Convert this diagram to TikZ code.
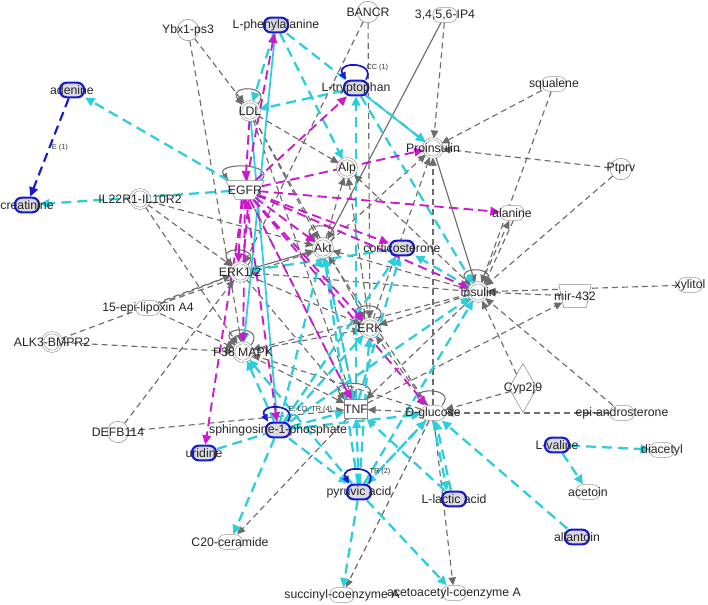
\documentclass[tikz,border=0pt]{standalone}
\usepackage{fontspec}
\setsansfont{Liberation Sans}
\usepackage{xcolor}
\usetikzlibrary{shapes.geometric,arrows.meta,backgrounds}

\definecolor{ipagray}{RGB}{108,108,108}
\definecolor{ipacyan}{RGB}{45,205,220}
\definecolor{ipamag}{RGB}{205,25,205}
\definecolor{ipablue}{RGB}{25,25,205}
\definecolor{molfill}{RGB}{218,218,224}

\begin{document}
\begin{tikzpicture}[
  x = 0.75pt, y = -0.75pt,
  every label/.style = {font=\fontsize{9.2}{10}\selectfont\sffamily, text=black!85, inner sep=0pt},
  elbl/.style = {font=\fontsize{5.5}{6}\selectfont\sffamily, text=black!80, inner sep=1pt},
  gene/.style = {circle, draw=ipagray!80, fill=white, minimum size=16pt, inner sep=0pt},
  group/.style = {gene, double=white, double distance=1.2pt, minimum size=14pt},
  recep/.style = {trapezium, trapezium angle=62, shape border rotate=180,
    draw=ipagray!80, fill=white, minimum width=18pt, minimum height=14pt, inner sep=1pt},
  chem/.style = {rectangle, rounded corners=5pt, draw=ipagray!70, fill=white,
    minimum width=18pt, minimum height=11pt, inner sep=0pt},
  meas/.style = {chem, draw=ipablue, line width=1.6pt, fill=molfill},
  cyto/.style = {rectangle, draw=ipagray!80, fill=white, minimum width=17pt, minimum height=14pt, inner sep=0pt},
  mirna/.style = {trapezium, trapezium angle=78, shape border rotate=180,
    draw=ipagray!80, fill=white, minimum width=17pt, minimum height=17pt, inner sep=1pt},
  enzyme/.style = {diamond, aspect=0.56, draw=ipagray!80, fill=white,
    minimum width=21pt, minimum height=37pt, inner sep=0pt},
  gd/.style = {draw=ipagray, line width=0.85pt, dash pattern=on 4.5pt off 3pt,
    -{Triangle[length=6pt,width=5.5pt]}},
  gs/.style = {gd, solid},
  cy/.style = {draw=ipacyan, line width=1.7pt, dash pattern=on 7.5pt off 4.5pt,
    -{Triangle[length=7pt,width=6.5pt]}},
  cs/.style = {cy, solid, line width=1.3pt},
  mg/.style = {draw=ipamag, line width=1.4pt, dash pattern=on 7pt off 4pt,
    -{Triangle[length=7pt,width=6.5pt]}},
  bd/.style = {draw=ipablue, line width=1.6pt, dash pattern=on 7pt off 4pt,
    -{Triangle[length=7pt,width=6.5pt]}},
  gloop/.style = {draw=ipagray, line width=0.8pt, {Triangle[length=5.5pt,width=5pt]}-},
  bloop/.style = {draw=ipablue, line width=1.3pt, {Triangle[length=5.5pt,width=5pt]}-}
]
\useasboundingbox (0,0) rectangle (708,605);

% molecules
\node[gene,  label=center:Ybx1-ps3]         (ybx)    at (188,30)  {};
\node[meas,  label=center:L-phenylalanine]  (phe)    at (276,25)  {};
\node[gene,  label=center:BANCR]            (bancr)  at (368,12)  {};
\node[chem,  label=center:{3,4,5,6-IP4}]    (ip4)    at (445,15)  {};
\node[meas,  label=center:adenine]          (ade)    at (72,90)   {};
\node[meas,  label=center:L-tryptophan]     (trp)    at (356,88)  {};
\node[group, label=center:LDL]              (ldl)    at (250,111) {};
\node[chem,  label=center:squalene]         (squ)    at (554,84)  {};
\node[group, label=center:Proinsulin]       (proins) at (433,148) {};
\node[group, label=center:Alp]              (alp)    at (347,168) {};
\node[gene,  label=center:Ptprv]            (ptprv)  at (621,169) {};
\node[meas,  label=center:creatinine]       (crea)   at (27,205)  {};
\node[group, label=center:IL22R1-IL10R2]    (il22)   at (140,199) {};
\node[recep, label=center:EGFR]             (egfr)   at (245,190) {};
\node[chem,  label=center:alanine]          (ala)    at (512,213) {};
\node[group, label=center:Akt]              (akt)    at (323,248) {};
\node[meas,  label=center:corticosterone]   (cort)   at (402,248) {};
\node[group, label=center:ERK1/2]           (erk12)  at (240,272) {};
\node[group, label=center:Insulin]          (ins)    at (478,292) {};
\node[mirna, label=center:mir-432]          (mir)    at (575,296) {};
\node[chem,  label=center:xylitol]          (xyl)    at (690,285) {};
\node[chem,  label=center:15-epi-lipoxin A4] (lipox) at (148,308) {};
\node[group, label=center:ALK3-BMPR2]       (alk3)   at (52,342)  {};
\node[group, label=center:P38 MAPK]         (p38)    at (243,352) {};
\node[group, label=center:ERK]              (erk)    at (370,328) {};
\node[enzyme, label=center:Cyp2j9]          (cyp)    at (523,388) {};
\node[cyto,  label=center:TNF]              (tnf)    at (356,409) {};
\node[chem,  label=center:D-glucose]        (dglc)   at (433,413) {};
\node[chem,  label=center:epi-androsterone] (epi)    at (622,413) {};
\node[gene,  label=center:DEFB114]          (defb)   at (118,432) {};
\node[meas,  label=center:sphingosine-1-phosphate] (s1p) at (278,430) {};
\node[meas,  label=center:uridine]          (uri)    at (204,453) {};
\node[meas,  label=center:L-valine]         (lval)   at (557,445) {};
\node[chem,  label=center:diacetyl]         (diac)   at (662,450) {};
\node[meas,  label=center:pyruvic acid]     (pyr)    at (359,492) {};
\node[chem,  label=center:acetoin]          (acet)   at (588,492) {};
\node[meas,  label=center:L-lactic acid]    (lac)    at (454,499) {};
\node[chem,  label=center:C20-ceramide]     (c20)    at (230,542) {};
\node[meas,  label=center:allantoin]        (allan)  at (577,537) {};
\node[chem,  label=center:succinyl-coenzyme A]    (succ) at (342,595) {};
\node[chem,  label=center:acetoacetyl-coenzyme A] (acac) at (454,593) {};

\begin{scope}[on background layer]
\fill[white] (0,0) rectangle (708,605);

% grey relations
\draw[gd] (ybx) -- (ldl);
\draw[gd] (ybx) -- (p38);
\draw[gd] (bancr) -- (erk12);
\draw[gd] (bancr) -- (erk);
\draw[gd] (ip4) -- (proins);
\draw[gs] (ip4) -- (akt);
\draw[gd] (squ) -- (proins);
\draw[gd] (squ) -- (ins);
\draw[gd] (ptprv) -- (proins);
\draw[gd] (ptprv) -- (ins);
\draw[gd] (ldl) -- (alp);
\draw[gd] (ldl) -- (akt);
\draw[gd] (ldl) -- (erk);
\draw[gd] (ldl) -- (tnf);
\draw[gd] (il22) -- (erk12);
\draw[gd] (il22) -- (p38);
\draw[gd] (il22) -- (akt);
\draw[gd] (lipox) -- (erk12);
\draw[gd] (lipox) -- (akt);
\draw[gd] (lipox) -- (p38);
\draw[gd] (alk3) -- (erk12);
\draw[gd] (alk3) -- (p38);
\draw[gd] (defb) -- (erk12);
\draw[gd] (defb) -- (tnf);
\draw[gd] (tnf) -- (c20);
\draw[gd] (tnf) -- (mir);
\draw[gd] (xyl) -- (ins);
\draw[gd] (mir) -- (ins);
\draw[gd] (cyp) -- (ins);
\draw[gd] (cyp) -- (dglc);
\draw[gd] (epi) -- (dglc);
\draw[gd] (epi) -- (ins);
\draw[gd] (dglc) -- (tnf);
\draw[gd] (dglc) -- (proins);
\draw[gd] (dglc) -- (succ);
\draw[gd] (dglc) -- (acac);
\draw[gd] (dglc) -- (erk);
\draw[gd] (dglc) -- (akt);
\draw[gd] (dglc) -- (p38);
\draw[gd] (ins.70) -- (ala.250);
\draw[gd] (ala.280) -- (ins.50);
\draw[gd] (ins) -- (erk);
\draw[gd] (ins) -- (akt);
\draw[gd] (ins) -- (erk12);
\draw[gd] (ins) -- (p38);
\draw[gd] (ins) -- (tnf);
\draw[gd] (ins) -- (alp);
\draw[gd] (erk) -- (alp);
\draw[gd] (erk) -- (proins);
\draw[gd] (akt) -- (alp);
\draw[gd] (akt) -- (proins);
\draw[gs] (proins) -- (ins);
\draw[gd] (egfr) -- (tnf);
\draw[gd] (erk12) -- (tnf);
\draw[gd] (p38) -- (tnf);
\draw[gs] (erk12) -- (akt);
\draw[gd] (p38) -- (erk);
\draw[gd] (erk12) -- (erk);
\draw[gd] (akt) -- (tnf);

% self relations
\draw[gloop] (ldl.140)   to[out=130,in=50,min distance=20pt] (ldl.40);
\draw[gloop] (egfr.150)  to[out=130,in=50,min distance=18pt] (egfr.30);
\draw[gloop] (erk12.140) to[out=130,in=50,min distance=20pt] (erk12.40);
\draw[gloop] (p38.140)   to[out=130,in=50,min distance=20pt] (p38.40);
\draw[gloop] (akt.140)   to[out=130,in=50,min distance=20pt] (akt.40);
\draw[gloop] (erk.140)   to[out=130,in=50,min distance=20pt] (erk.40);
\draw[gloop] (ins.140)   to[out=130,in=50,min distance=20pt] (ins.40);
\draw[gloop] (tnf.140)   to[out=130,in=50,min distance=20pt] (tnf.40);
\draw[gloop] (dglc.140)  to[out=130,in=50,min distance=18pt] (dglc.40);

% metabolite relations
\draw[cy] (phe) -- (ldl);
\draw[cy] (phe) -- (alp);
\draw[cy] (phe) -- (proins);
\draw[cs] (phe) -- (p38);
\draw[cs, -] (ldl) -- (s1p);
\draw[cy] (trp) -- (ldl);
\draw[cs] (trp) -- (proins);
\draw[cy] (trp) -- (ins);
\draw[cy] (tnf) -- (trp);
\draw[cy] (egfr) -- (ade);
\draw[cy] (egfr) -- (crea);
\draw[cy, -] (uri) -- (s1p);
\draw[cy] (s1p) -- (c20);
\draw[cy] (s1p) -- (tnf);
\draw[cy] (s1p) -- (erk);
\draw[cy] (s1p) -- (akt);
\draw[cy] (s1p) -- (p38);
\draw[cy] (s1p) -- (ins);
\draw[cy] (s1p) -- (dglc);
\draw[cy] (s1p) -- (cort);
\draw[cy] (s1p) -- (pyr);
\draw[cy] (pyr) -- (succ);
\draw[cy] (pyr) -- (acac);
\draw[cy] (pyr) -- (dglc);
\draw[cy] (pyr) -- (tnf);
\draw[cy] (pyr) -- (erk);
\draw[cy] (pyr) -- (ins);
\draw[cy] (pyr) -- (akt);
\draw[cy] (pyr) -- (p38);
\draw[cy] (lac.110) -- (dglc.290);
\draw[cy] (dglc.270) -- (lac.130);
\draw[cy] (lac) -- (tnf);
\draw[cy] (allan) -- (dglc);
\draw[cy] (lval) -- (diac);
\draw[cy] (lval) -- (acet);
\draw[cy] (dglc) -- (pyr);
\draw[cy] (ins) -- (cort);
\draw[cy] (cort) -- (erk12);
\draw[cy] (tnf) -- (cort);
\draw[cy] (tnf) -- (akt);

% EGFR relations
\draw[mg] (ldl) -- (egfr);
\draw[mg] (egfr) -- (phe);
\draw[mg] (egfr) -- (trp);
\draw[mg] (egfr) -- (proins);
\draw[mg] (egfr) -- (ala);
\draw[mg] (egfr) -- (cort);
\draw[mg] (egfr) -- (ins);
\draw[mg] (egfr) -- (akt);
\draw[mg] (egfr) -- (erk);
\draw[mg] (egfr) -- (dglc);
\draw[mg] (egfr.250) -- (erk12.100);
\draw[mg] (erk12.70) -- (egfr.290);
\draw[mg] (egfr) -- (p38);
\draw[mg] (egfr) -- (uri);
\draw[mg] (egfr) -- (s1p);
\draw[mg] (egfr) -- (tnf);

\draw[bd] (ade) -- node[elbl, right]{E (1)} (crea);
\draw[bloop] (trp.140) to[out=120,in=60,min distance=16pt] node[elbl, right, pos=0.7]{CC (1)} (trp.40);
\draw[bloop] (s1p.140) to[out=120,in=60,min distance=16pt] node[elbl, right, pos=0.7]{E, LO, TR (4)} (s1p.40);
\draw[bloop] (pyr.140) to[out=120,in=60,min distance=16pt] node[elbl, right, pos=0.7]{TR (2)} (pyr.40);
\end{scope}
\end{tikzpicture}
\end{document}
